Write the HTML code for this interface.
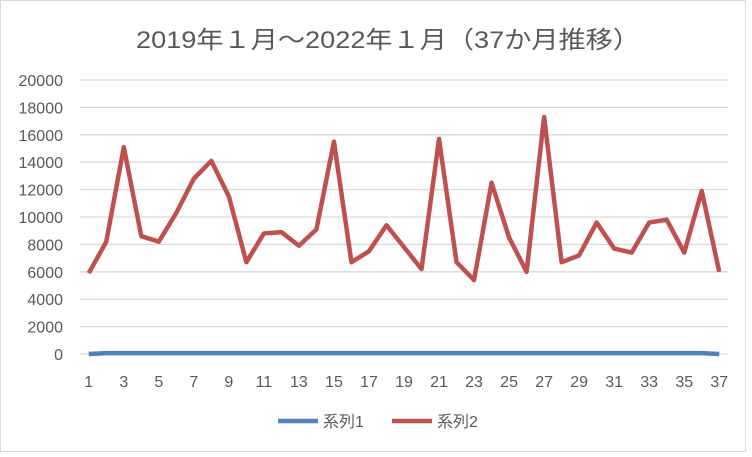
<!DOCTYPE html>
<html><head><meta charset="utf-8"><style>
body{margin:0;background:#fff;}
svg text{font-family:"Liberation Sans","Noto Sans CJK JP",sans-serif;fill:#595959;}
</style></head><body>
<svg width="752" height="452" xmlns="http://www.w3.org/2000/svg">
<rect x="0.5" y="0.5" width="745" height="451" fill="#fff" stroke="#d9d9d9"/>
<text x="136" y="48" font-size="24" textLength="504" lengthAdjust="spacingAndGlyphs">2019年１月～2022年１月（37か月推移）</text>
<g id="grid" stroke="#d9d9d9" stroke-width="1.3"></g>
<g id="ylab" font-size="16" text-anchor="end"></g>
<g id="xlab" font-size="16" text-anchor="middle"></g>
<polyline id="s1" fill="none" stroke="#4f81bd" stroke-width="4.5" stroke-linejoin="round"/>
<polyline id="s2" fill="none" stroke="#c0504d" stroke-width="4.5" stroke-linejoin="round"/>
<line x1="278" y1="421" x2="318" y2="421" stroke="#4f81bd" stroke-width="4.5"/>
<text x="323" y="427" font-size="16">系列1</text>
<line x1="392" y1="421" x2="432" y2="421" stroke="#c0504d" stroke-width="4.5"/>
<text x="437" y="427" font-size="16">系列2</text>
</svg>
<script>
const ns="http://www.w3.org/2000/svg";
const g=document.getElementById('grid'),yl=document.getElementById('ylab'),xl=document.getElementById('xlab');
const y0=354,yt=80,x0=80,x1=728;
const Y=v=>y0-(v/20000)*(y0-yt);
const step=(x1-x0)/37;const X=i=>x0+step*(i-0.5);
for(let v=0;v<=20000;v+=2000){
 const l=document.createElementNS(ns,'line');l.setAttribute('x1',x0);l.setAttribute('x2',x1);l.setAttribute('y1',Y(v));l.setAttribute('y2',Y(v));g.appendChild(l);
 const t=document.createElementNS(ns,'text');t.setAttribute('x',63);t.setAttribute('y',Y(v)+6);t.textContent=v;yl.appendChild(t);
}
for(let i=1;i<=37;i+=2){const t=document.createElementNS(ns,'text');t.setAttribute('x',X(i));t.setAttribute('y',387);t.textContent=i;xl.appendChild(t);}
const d=[5900,8200,15100,8600,8200,10300,12800,14100,11500,6700,8800,8900,7900,9100,15500,6700,7500,9400,7800,6200,15700,6700,5400,12500,8500,6000,17300,6700,7200,9600,7700,7400,9600,9800,7400,11900,6000];
document.getElementById('s2').setAttribute('points',d.map((v,i)=>X(i+1)+','+Y(v)).join(' '));
document.getElementById('s1').setAttribute('points',d.map((v,i)=>X(i+1)+','+Y((i==0||i==36)?0:60)).join(' '));
</script>
</body></html>
